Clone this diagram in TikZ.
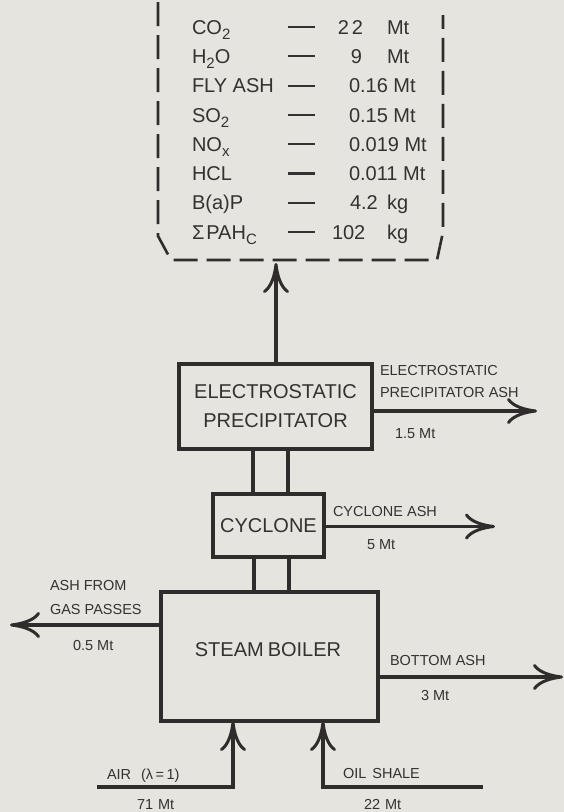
\documentclass[tikz,border=0pt]{standalone}
\usepackage{fontspec}
\setmainfont{Liberation Sans}
\usetikzlibrary{arrows.meta,calc}
\definecolor{paper}{HTML}{E6E4DE}
\definecolor{ink}{HTML}{302C2C}
\definecolor{textink}{HTML}{353131}
\newcommand\sbs[1]{\raisebox{-5pt}{\fontsize{15}{15}\selectfont #1}}
\newcommand\dashrule{\rule{27pt}{2.2pt}}
\begin{document}
\begin{tikzpicture}[x=1pt,y=-1pt,
  every node/.style={text=textink, inner sep=0pt, outer sep=0pt},
  boxnode/.style={draw=ink, line width=3.2pt, font=\fontsize{20}{29}\selectfont, align=center},
  big/.style={font=\fontsize{20}{24}\selectfont, anchor=west, text height=14.3pt, text depth=0pt},
  bigend/.style={big, anchor=east},
  small/.style={font=\fontsize{14.5}{17}\selectfont, anchor=west, text height=10.4pt, text depth=0pt},
  flow/.style={draw=ink, line width=3.2pt},
  arr/.style={flow, -{Computer Modern Rightarrow[length=30pt,width=26pt,line width=3pt]}},
  dashmark/.style={anchor=center}
]
\fill[paper] (0,0) rectangle (564,812);
\useasboundingbox (0,0) rectangle (564,812);

% dashed output box
\draw[ink, line width=2.6pt, dash pattern=on 24pt off 9pt] (158,2) -- (158,236) -- (171,260) -- (437,260) -- (443,232) -- (443,15);

% emission list
\foreach \nm/\yy in {n1/27, n2/56.3, n3/85.6, n4/114.9, n5/144.2, n6/173.5, n7/202.8, n8/232}{
  \node[dashmark] (d\nm) at (301.5,\yy) {\dashrule};
}
\node[big] (n1) at (192,27) {CO\sbs{2}};
\node[big] (n2) at (192,56.3) {H\sbs{2}O};
\node[big] (n3) at (192,85.6) {FLY ASH};
\node[big] (n4) at (192,114.9) {SO\sbs{2}};
\node[big] (n5) at (192,144.2) {NO\sbs{x}};
\node[big] (n6) at (192,173.5) {HCL};
\node[big] (n7) at (192,202.8) {B(a)P};
\node[big] (n8) at (192,232) {Σ\kern2pt PAH\sbs{C}};

\node[bigend] (v1) at (363,27) {2\kern3pt2};
\node[big] (u1) at (387,27) {Mt};
\node[bigend] (v2) at (362,56.3) {9};
\node[big] (u2) at (387,56.3) {Mt};
\node[big] (v3) at (349,85.6) {0.16 Mt};
\node[big] (v4) at (349,114.9) {0.15 Mt};
\node[big] (v5) at (349,144.2) {0.019 Mt};
\node[big] (v6) at (349,173.5) {0.011 Mt};
\node[big] (v7) at (350,202.8) {4.2};
\node[big] (u7) at (387,202.8) {kg};
\node[big] (v8) at (332,232) {102};
\node[big] (u8) at (387,232) {kg};

% boxes
\node[boxnode, minimum width=193pt, minimum height=85pt] (esp) at (275.5,406.5) {ELECTROSTATIC\\PRECIPITATOR};
\node[boxnode, minimum width=111pt, minimum height=63pt] (cyc) at (268.5,525.5) {CYCLONE};
\node[boxnode, minimum width=217pt, minimum height=129pt] (boiler) at (269.5,656.5) {};
\node[font=\fontsize{20}{24}\selectfont] (boilertxt) at (268,650) {STEAM\kern4pt BOILER};

% coordinates
\coordinate (outlet) at (276,263);
\coordinate (l1) at (253,0);
\coordinate (l2) at (288,0);
\coordinate (l3) at (254,0);
\coordinate (l4) at (289,0);
\coordinate (espash) at (537,411);
\coordinate (cycash) at (495,526.5);
\coordinate (gasash) at (10,625);
\coordinate (botash) at (563,677);
\coordinate (airstart) at (97,787);
\coordinate (oilstart) at (483,787);
\coordinate (airx) at (233,0);
\coordinate (oilx) at (323,0);

% connectors
\draw[arr] (esp.north -| outlet) -- (outlet);
\draw[flow] (esp.south -| l1) -- (cyc.north -| l1);
\draw[flow] (esp.south -| l2) -- (cyc.north -| l2);
\draw[flow] (cyc.south -| l3) -- (boiler.north -| l3);
\draw[flow] (cyc.south -| l4) -- (boiler.north -| l4);
\draw[arr] (esp.east |- espash) -- (espash);
\draw[arr] (cyc.east |- cycash) -- (cycash);
\draw[arr] (boiler.west |- gasash) -- (gasash);
\draw[arr] (boiler.east |- botash) -- (botash);
\draw[arr, line width=3.6pt] (airstart) -| (boiler.south -| airx);
\draw[arr, line width=3.6pt] (oilstart) -| (boiler.south -| oilx);

% flow labels
\node[small] (e1) at (380,370) {ELECTROSTATIC};
\node[small] (e2) at (380,392) {PRECIPITATOR ASH};
\node[small] (e3) at (395,433) {1.5 Mt};
\node[small] (c1) at (333,511) {CYCLONE ASH};
\node[small] (c2) at (367,544) {5 Mt};
\node[small] (g1) at (50,585) {ASH FROM};
\node[small] (g2) at (50,609) {GAS PASSES};
\node[small] (g3) at (73,645) {0.5 Mt};
\node[small] (b1) at (390,660) {BOTTOM ASH};
\node[small] (b2) at (421,695) {3 Mt};
\node[small] (a1) at (107,774) {AIR\kern10pt(λ\,=\,1)};
\node[small] (a2) at (137,804) {71\kern5pt Mt};
\node[small] (o1) at (343,773) {OIL\kern6pt SHALE};
\node[small] (o2) at (364,804) {22\kern5pt Mt};
\end{tikzpicture}
\end{document}
